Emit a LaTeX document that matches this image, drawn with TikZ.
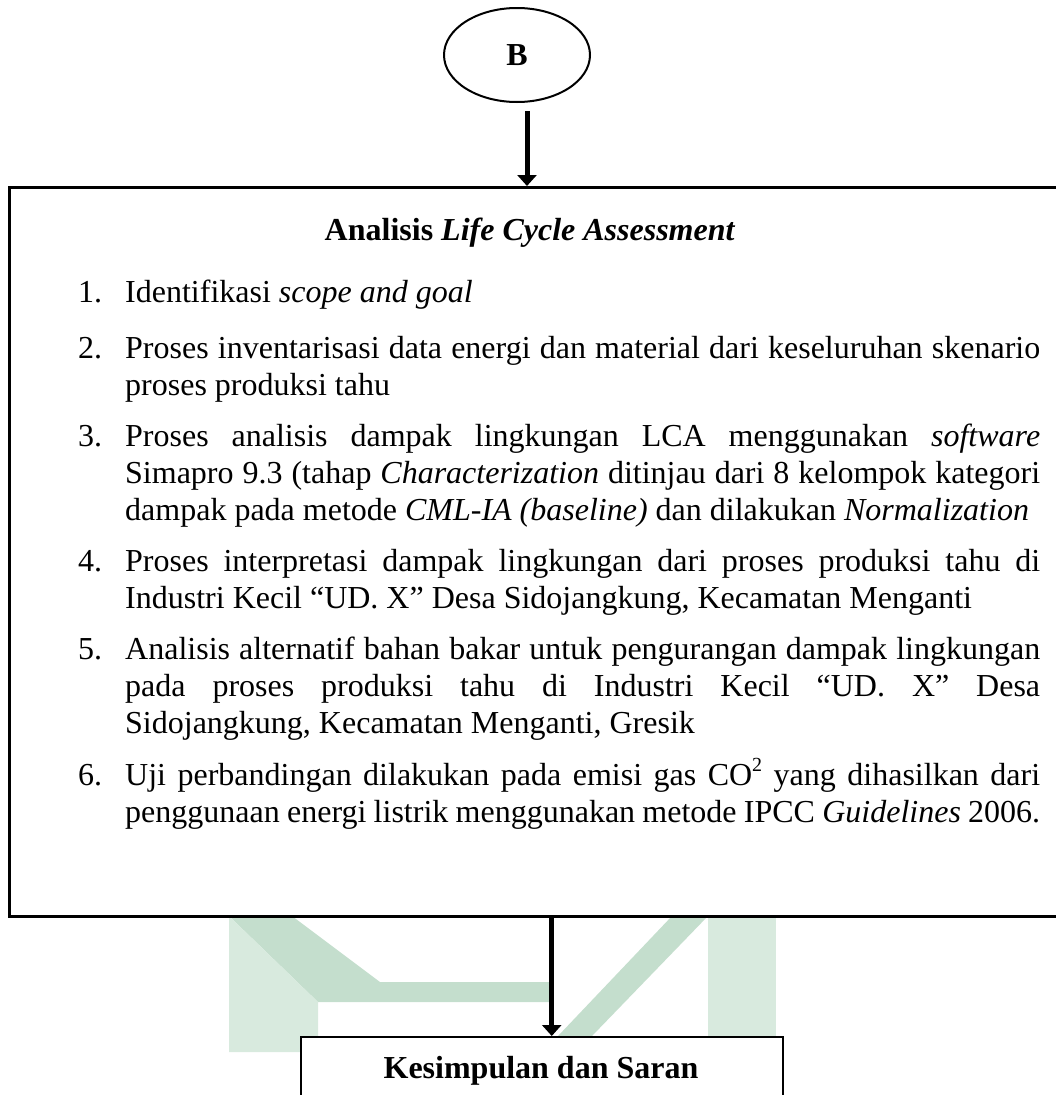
\documentclass[tikz,border=0pt]{standalone}
\usepackage{fontspec}
\setmainfont{Liberation Serif}
\usetikzlibrary{arrows.meta,shapes.geometric}
\definecolor{wmdark}{RGB}{196,222,205}
\definecolor{wmlight}{RGB}{216,234,222}
\hyphenpenalty=10000
\exhyphenpenalty=10000
\newcommand{\supr}[1]{\raisebox{0.42em}{\fontsize{20}{20}\selectfont #1}}

\begin{document}
\begin{tikzpicture}[x=1pt,y=-1pt,
  txt/.style={inner sep=0pt, font=\fontsize{32}{37}\selectfont},
  num/.style={txt, anchor=base west},
  para/.style={txt, anchor=base west, text width=915pt, align=justify},
  arr/.style={line width=5pt, -{Triangle[width=19pt,length=11pt]}},
]
\useasboundingbox (0,0) rectangle (1056,1095);

% faint logo in the background
\fill[wmdark] (229,916) -- (292,916) -- (380,982) -- (552,982) -- (552,1002) -- (318,1002) -- cycle;
\fill[wmlight] (229,916) -- (318,1002) -- (318,1052) -- (229,1052) -- cycle;
\fill[wmdark] (558,1036) -- (672,916) -- (708,916) -- (592,1036) -- cycle;
\fill[wmlight] (708,916) -- (776,916) -- (776,1052) -- (708,1052) -- cycle;

% start connector
\node[draw, ellipse, line width=2pt, minimum width=146pt, minimum height=94pt,
      inner sep=0pt, font=\bfseries\fontsize{32}{38}\selectfont] (B) at (517,55) {B};

% main analysis box (runs past the right edge)
\node[draw, line width=2.5pt, minimum width=1064pt, minimum height=729pt,
      inner sep=0pt, anchor=north west] (LCA) at (8,186) {};

\node[txt, anchor=base, font=\bfseries\fontsize{32}{37}\selectfont] (title) at (530,240)
  {Analisis \textit{Life Cycle Assessment}};

\node[num] (n1) at (78,302) {1.};
\node[para] (p1) at (125,302) {Identifikasi \textit{scope and goal}};

\node[num] (n2) at (78,358) {2.};
\node[para] (p2) at (125,358) {Proses inventarisasi data energi dan material dari keseluruhan skenario\linebreak
  proses produksi tahu};

\node[num] (n3) at (78,446.25) {3.};
\node[para] (p3) at (125,446.25) {Proses analisis dampak lingkungan LCA menggunakan \textit{software}\linebreak
  Simapro 9.3 (tahap \textit{Characterization} ditinjau dari 8 kelompok kategori\linebreak
  dampak pada metode \textit{CML-IA (baseline)} dan dilakukan \textit{Normalization}};

\node[num] (n4) at (78,571.5) {4.};
\node[para] (p4) at (125,571.5) {Proses interpretasi dampak lingkungan dari proses produksi tahu di\linebreak
  Industri Kecil “UD. X” Desa Sidojangkung, Kecamatan Menganti};

\node[num] (n5) at (78,659.75) {5.};
\node[para] (p5) at (125,659.75) {Analisis alternatif bahan bakar untuk pengurangan dampak lingkungan\linebreak
  pada proses produksi tahu di Industri Kecil “UD. X” Desa\linebreak
  Sidojangkung, Kecamatan Menganti, Gresik};

\node[num] (n6) at (78,785) {6.};
\node[para] (p6) at (125,785) {Uji perbandingan dilakukan pada emisi gas CO\supr{2} yang dihasilkan dari\linebreak
  penggunaan energi listrik menggunakan metode IPCC \textit{Guidelines} 2006.};

% conclusion box (runs past the bottom edge)
\node[draw, fill=white, line width=1.5pt, minimum width=482pt, minimum height=80pt,
      inner sep=0pt, anchor=north west] (KS) at (300,1036) {};
\node[txt, anchor=base, font=\bfseries\fontsize{32}{37}\selectfont] (kstext) at (541,1078)
  {Kesimpulan dan Saran};

% connectors
\draw[arr] ([xshift=10pt,yshift=-8pt]B.south) -- ([xshift=10pt]B.south |- LCA.north);
\draw[arr] ([xshift=10pt]KS.north |- LCA.south) -- ([xshift=10pt]KS.north);
\end{tikzpicture}
\end{document}
